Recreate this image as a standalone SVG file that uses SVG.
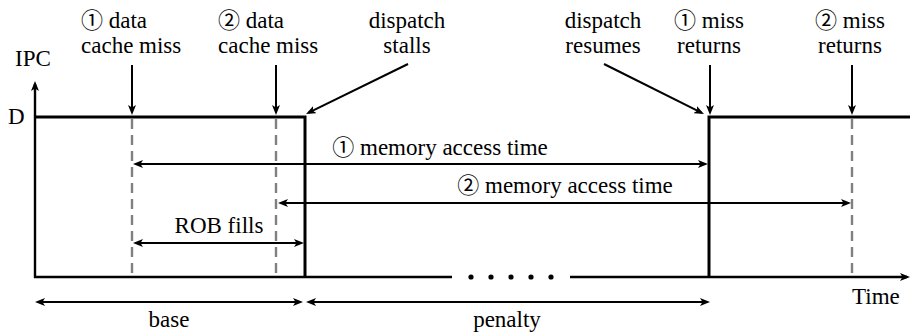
<svg xmlns="http://www.w3.org/2000/svg" width="910" height="333" viewBox="0 0 910 333">
<style>
text{font-family:"Liberation Serif","Times New Roman","DejaVu Serif",serif;font-size:23px;fill:#000}
.n{font-family:"Noto Sans CJK JP","DejaVu Sans",sans-serif;font-size:22px}
.c{text-anchor:middle}
.ax{stroke:#000;stroke-width:2.4;fill:none}
.sig{stroke:#000;stroke-width:3;fill:none}
.dim{stroke:#000;stroke-width:2;fill:none}
.dash{stroke:#808080;stroke-width:2.4;stroke-dasharray:10,6;fill:none}
</style>
<defs>
<marker id="ah" viewBox="0 0 10 8" refX="7" refY="4" markerWidth="10" markerHeight="8" markerUnits="userSpaceOnUse" orient="auto-start-reverse">
<path d="M0,0 L10,4 L0,8 L2.5,4 z" fill="#000"/>
</marker>
</defs>
<g id="axes">
<line class="ax" x1="35" y1="278" x2="35" y2="84" marker-end="url(#ah)"/>
<line class="ax" x1="34" y1="277" x2="452" y2="277"/>
<line class="ax" x1="570" y1="277" x2="907" y2="277" marker-end="url(#ah)"/>
<g fill="#000">
<circle cx="471" cy="277" r="2.6"/><circle cx="491" cy="277" r="2.6"/><circle cx="511" cy="277" r="2.6"/><circle cx="531" cy="277" r="2.6"/><circle cx="551" cy="277" r="2.6"/>
</g>
<text x="15" y="66">IPC</text>
<text x="8" y="124">D</text>
<text x="852" y="304">Time</text>
</g>
<g id="signal">
<path class="sig" d="M35,117 H305 V277"/>
<path class="sig" d="M709,277 V117 H910"/>
</g>
<g id="dashed">
<line class="dash" x1="132" y1="119" x2="132" y2="273"/>
<line class="dash" x1="276" y1="119" x2="276" y2="273"/>
<line class="dash" x1="852" y1="119" x2="852" y2="273"/>
</g>
<g id="label-miss1">
<text x="81" y="28"><tspan class="n">①</tspan> data</text>
<text x="81" y="53">cache miss</text>
</g>
<g id="label-miss2">
<text x="218" y="28"><tspan class="n">②</tspan> data</text>
<text x="218" y="53">cache miss</text>
</g>
<g id="label-stalls">
<text class="c" x="407" y="28">dispatch</text>
<text class="c" x="407" y="53">stalls</text>
</g>
<g id="label-resumes">
<text class="c" x="603" y="28">dispatch</text>
<text class="c" x="603" y="53">resumes</text>
</g>
<g id="label-return1">
<text class="c" x="709" y="28"><tspan class="n">①</tspan> miss</text>
<text class="c" x="709" y="53">returns</text>
</g>
<g id="label-return2">
<text class="c" x="850" y="28"><tspan class="n">②</tspan> miss</text>
<text class="c" x="850" y="53">returns</text>
</g>
<g id="label-mem1"><text class="c" x="440" y="155"><tspan class="n">①</tspan> memory access time</text></g>
<g id="label-mem2"><text class="c" x="565" y="193"><tspan class="n">②</tspan> memory access time</text></g>
<g id="label-rob"><text class="c" x="219" y="233">ROB fills</text></g>
<g id="label-base"><text class="c" x="169" y="327">base</text></g>
<g id="label-penalty"><text class="c" x="507" y="327">penalty</text></g>
<g id="connectors">
<line class="dim" x1="132" y1="65" x2="132" y2="112" marker-end="url(#ah)"/>
<line class="dim" x1="276" y1="65" x2="276" y2="112" marker-end="url(#ah)"/>
<line class="dim" x1="710" y1="65" x2="710" y2="112" marker-end="url(#ah)"/>
<line class="dim" x1="852" y1="65" x2="852" y2="112" marker-end="url(#ah)"/>
<line class="dim" x1="408" y1="64" x2="308.7" y2="112.7" marker-end="url(#ah)"/>
<line class="dim" x1="604" y1="64" x2="701.3" y2="112.7" marker-end="url(#ah)"/>
<line class="dim" x1="136" y1="164" x2="705" y2="164" marker-start="url(#ah)" marker-end="url(#ah)"/>
<line class="dim" x1="281" y1="203" x2="848" y2="203" marker-start="url(#ah)" marker-end="url(#ah)"/>
<line class="dim" x1="136" y1="243" x2="301" y2="243" marker-start="url(#ah)" marker-end="url(#ah)"/>
<line class="dim" x1="38" y1="302" x2="300" y2="302" marker-start="url(#ah)" marker-end="url(#ah)"/>
<line class="dim" x1="309" y1="302" x2="707" y2="302" marker-start="url(#ah)" marker-end="url(#ah)"/>
</g>
</svg>
